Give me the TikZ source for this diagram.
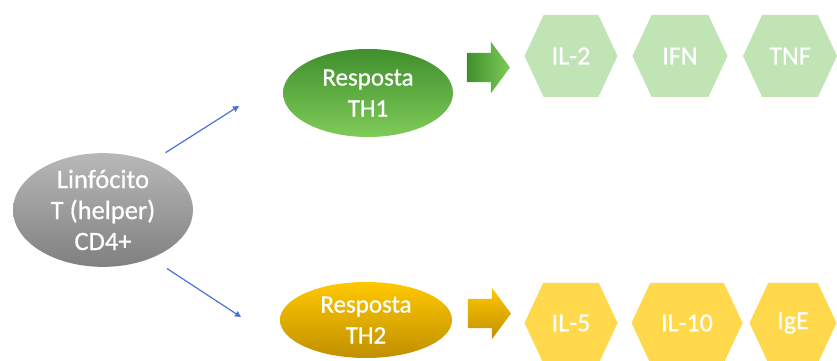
\documentclass[tikz,border=0pt]{standalone}
\usepackage{fontspec}
\setmainfont{Carlito}
\newfontfamily\lblfont[FakeBold=0.7]{Carlito}
\usepackage{tikz}
\usetikzlibrary{shapes.geometric}
\usetikzlibrary{shapes.symbols}
\usetikzlibrary{shapes.arrows}
\usetikzlibrary{arrows.meta}
\definecolor{cellgray}{HTML}{A6A6A6}
\definecolor{celldark}{HTML}{808080}
\definecolor{thgreen}{HTML}{3F8F2C}
\definecolor{thgreenl}{HTML}{7FCB58}
\definecolor{thgold}{HTML}{FFC800}
\definecolor{thgoldd}{HTML}{C09000}
\definecolor{hexgreen}{HTML}{C1E4B5}
\definecolor{hexgold}{HTML}{FFD84C}
\definecolor{linkblue}{HTML}{4A72D6}
\tikzset{
resp/.style={
  ellipse,
  inner sep=0pt,
  align=center,
  text=white,
  font=\lblfont\fontsize{25}{31}\selectfont
},
cyto/.style={
  signal,
  signal to=west and east,
  signal pointer angle=130,
  minimum height=82pt,
  minimum width=93pt,
  inner sep=0pt,
  text=white,
  font=\lblfont\fontsize{26}{28}\selectfont
},
block/.style={
  single arrow,
  single arrow head extend=11pt,
  single arrow tip angle=107,
  inner xsep=0pt,
  inner ysep=14.5pt,
  minimum height=43pt
},
link/.style={
  linkblue,
  line width=1.2pt,
  -{Triangle[length=6pt,width=6pt]}
},
%th1/.style={top color=thgreen,bottom color=thgreenl},
}

\begin{document}
\begin{tikzpicture}[x=1pt,y=1pt]
\clip (0,0) rectangle (837,361);
% the cells
\node[resp,minimum width=180pt,minimum height=104pt,font=\lblfont\fontsize{26.5}{31}\selectfont,
  top color=cellgray!80,bottom color=celldark] (cd4) at (103,151)
  {Linfócito\\T (helper)\\CD4+};
\node[resp,minimum width=170pt,minimum height=88pt,
  top color=thgreen,middle color=thgreen!80!thgreenl,bottom color=thgreenl] (th1) at (368,268)
  {Resposta\\TH1};
\node[resp,minimum width=172pt,minimum height=76pt,
  top color=thgold,middle color=thgold!90!thgoldd,bottom color=thgoldd] (th2) at (366,41)
  {Resposta\\TH2};
% the block arrows
\node[block,left color=thgreen,right color=thgreenl] (go1) at (483,293.5) {};
\node[block,top color=thgold,bottom color=thgoldd] (go2) at (484,47.5) {};
% the cytokines
\node[cyto,fill=hexgreen] (il2) at (571,305) {IL-2};
\node[cyto,fill=hexgreen,minimum width=95pt] (ifn) at (680,305) {IFN};
\node[cyto,fill=hexgreen,minimum width=94pt] (tnf) at (790,305) {TNF};
\node[cyto,fill=hexgold,minimum height=80pt] (il5) at (571,38) {IL-5};
\node[cyto,fill=hexgold,minimum height=80pt,minimum width=111pt] (il10) at (687,38) {IL-10};
\node[cyto,fill=hexgold,minimum height=80pt,minimum width=87pt] (ige) at (793,38) {IgE};
% the links
\coordinate (up) at (239,255);
\coordinate (down) at (241,44);
\draw[link,shorten <=17pt] (cd4.45) -- (up);
\draw[link,shorten <=19pt] (cd4.-45) -- (down);
\end{tikzpicture}
\end{document}
